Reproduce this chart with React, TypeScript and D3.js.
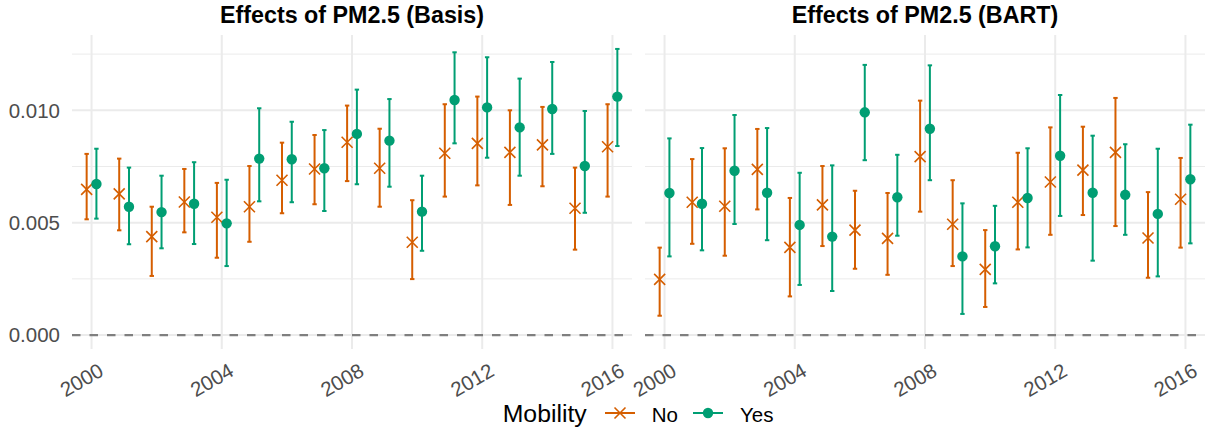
import React from 'react';
import * as d3 from 'd3';

const years = d3.range(2000, 2017);
const xTicks = [2000, 2004, 2008, 2012, 2016];
const yTicks = [0, 0.005, 0.01];
const yMinor = [0.0025, 0.0075, 0.0125];
const yTickLabels = ['0.000', '0.005', '0.010'];
const panelTitles = ['Effects of PM2.5 (Basis)', 'Effects of PM2.5 (BART)'];
const groups = ['No', 'Yes'];

// Basis model, no mobility
const basisNoEst = [0.00648, 0.00628, 0.00438, 0.00592, 0.00524, 0.00571, 0.00689, 0.00739, 0.00858, 0.00742, 0.00413, 0.00809, 0.00853, 0.00813, 0.00846, 0.00564, 0.00838];
const basisNoLo = [0.00515, 0.00466, 0.00263, 0.00457, 0.00344, 0.00415, 0.00542, 0.00582, 0.00685, 0.00571, 0.00249, 0.00616, 0.00666, 0.00579, 0.00662, 0.0038, 0.00616];
const basisNoHi = [0.00806, 0.00785, 0.00571, 0.00739, 0.00677, 0.00752, 0.00856, 0.0089, 0.01021, 0.00918, 0.006, 0.01027, 0.01061, 0.01, 0.01015, 0.00745, 0.01027];

// Basis model, mobility
const basisYesEst = [0.00672, 0.00571, 0.00547, 0.00584, 0.00497, 0.00785, 0.00782, 0.00742, 0.00895, 0.00865, 0.00549, 0.01046, 0.01013, 0.00924, 0.01006, 0.00752, 0.01061];
const basisYesLo = [0.00518, 0.00404, 0.00386, 0.00405, 0.00307, 0.00595, 0.00591, 0.00552, 0.00671, 0.0066, 0.00375, 0.00853, 0.00789, 0.00709, 0.00806, 0.00544, 0.00841];
const basisYesHi = [0.00829, 0.00745, 0.00709, 0.00769, 0.00691, 0.01009, 0.00949, 0.00912, 0.01092, 0.0105, 0.00709, 0.01258, 0.01236, 0.01141, 0.01215, 0.00997, 0.01273];

// BART model, no mobility
const bartNoEst = [0.00248, 0.00591, 0.00573, 0.00737, 0.0039, 0.00579, 0.00467, 0.0043, 0.00794, 0.00493, 0.00292, 0.00591, 0.00681, 0.00734, 0.00813, 0.00432, 0.00604];
const bartNoLo = [0.00086, 0.00406, 0.00353, 0.00559, 0.00172, 0.00396, 0.00295, 0.00268, 0.00549, 0.00307, 0.00125, 0.00381, 0.00446, 0.00534, 0.00485, 0.00255, 0.00389];
const bartNoHi = [0.00389, 0.00783, 0.00831, 0.00917, 0.0061, 0.00752, 0.00642, 0.00632, 0.01043, 0.00689, 0.00467, 0.00811, 0.00924, 0.00927, 0.01055, 0.00636, 0.00788];

// BART model, mobility
const bartYesEst = [0.00632, 0.00584, 0.00731, 0.00633, 0.0049, 0.00438, 0.00991, 0.00613, 0.00918, 0.0035, 0.00395, 0.0061, 0.00798, 0.00633, 0.00624, 0.00539, 0.00693];
const bartYesLo = [0.0035, 0.00377, 0.00494, 0.00422, 0.00223, 0.00196, 0.00778, 0.00442, 0.00689, 0.00094, 0.0023, 0.0039, 0.0053, 0.00331, 0.00446, 0.00261, 0.00408];
const bartYesHi = [0.00875, 0.00832, 0.00979, 0.00921, 0.00722, 0.00755, 0.01202, 0.00802, 0.012, 0.00586, 0.00575, 0.00831, 0.01068, 0.00887, 0.00849, 0.00829, 0.00936];

const colors = { No: '#D55E00', Yes: '#009E73' };
const font = '"Liberation Sans", Arial, Helvetica, sans-serif';

const panels = [
  {
    title: panelTitles[0], x0: 72, x1: 632,
    series: [
      { group: 'No', est: basisNoEst, lo: basisNoLo, hi: basisNoHi },
      { group: 'Yes', est: basisYesEst, lo: basisYesLo, hi: basisYesHi },
    ],
  },
  {
    title: panelTitles[1], x0: 645, x1: 1205,
    series: [
      { group: 'No', est: bartNoEst, lo: bartNoLo, hi: bartNoHi },
      { group: 'Yes', est: bartYesEst, lo: bartYesLo, hi: bartYesHi },
    ],
  },
];

const top = 35, bottom = 349;
const y = d3.scaleLinear().domain([-0.00062, 0.01335]).range([bottom, top]);
const dodge = 0.15;

const Cross = ({ cx, cy, color }) => {
  const s = 5.5;
  return (
    <path
      d={`M${cx - s},${cy - s}L${cx + s},${cy + s}M${cx - s},${cy + s}L${cx + s},${cy - s}`}
      stroke={color}
      strokeWidth={1.6}
      fill="none"
    />
  );
};

const Panel = ({ panel, showY }) => {
  const x = d3.scaleLinear().domain([1999.4, 2016.6]).range([panel.x0, panel.x1]);
  return (
    <g>
      {yMinor.map(v => (
        <line key={'mn' + v} x1={panel.x0} x2={panel.x1} y1={y(v)} y2={y(v)} stroke="#EBEBEB" strokeWidth={1} />
      ))}
      {yTicks.map(v => (
        <line key={'mj' + v} x1={panel.x0} x2={panel.x1} y1={y(v)} y2={y(v)} stroke="#EBEBEB" strokeWidth={2} />
      ))}
      {xTicks.map(t => (
        <line key={'vx' + t} x1={x(t)} x2={x(t)} y1={top} y2={bottom} stroke="#EBEBEB" strokeWidth={2} />
      ))}
      <line x1={panel.x0} x2={panel.x1} y1={y(0)} y2={y(0)} stroke="#7F7F7F" strokeWidth={2.2} strokeDasharray="8.5,9" />

      {panel.series.map((s, si) => {
        const off = si === 0 ? -dodge : dodge;
        const c = colors[s.group];
        return (
          <g key={s.group}>
            {years.map((yr, i) => {
              const cx = x(yr + off);
              return (
                <g key={yr}>
                  <line x1={cx} x2={cx} y1={y(s.lo[i])} y2={y(s.hi[i])} stroke={c} strokeWidth={2} />
                  <line x1={cx - 2.2} x2={cx + 2.2} y1={y(s.lo[i])} y2={y(s.lo[i])} stroke={c} strokeWidth={2} />
                  <line x1={cx - 2.2} x2={cx + 2.2} y1={y(s.hi[i])} y2={y(s.hi[i])} stroke={c} strokeWidth={2} />
                  {s.group === 'No'
                    ? <Cross cx={cx} cy={y(s.est[i])} color={c} />
                    : <circle cx={cx} cy={y(s.est[i])} r={5.2} fill={c} />}
                </g>
              );
            })}
          </g>
        );
      })}

      {xTicks.map(t => (
        <text
          key={'xl' + t}
          transform={`translate(${x(t) + 6},${362}) rotate(-30)`}
          textAnchor="end"
          dy="0.72em"
          fontSize={20.5}
          fill="#4D4D4D"
          fontFamily={font}
        >
          {t}
        </text>
      ))}

      {showY && yTicks.map((v, i) => (
        <text key={'yl' + v} x={60} y={y(v) + 7.3} textAnchor="end" fontSize={20.5} fill="#4D4D4D" fontFamily={font}>
          {yTickLabels[i]}
        </text>
      ))}

      <text x={(panel.x0 + panel.x1) / 2} y={23.3} textAnchor="middle" fontSize={23.3} fontWeight="bold" fill="#000" fontFamily={font}>
        {panel.title}
      </text>
    </g>
  );
};

const Legend = () => {
  const ly = 413;
  return (
    <g fontFamily={font}>
      <text x={502.7} y={421.7} fontSize={24.8} fill="#000">Mobility</text>
      <line x1={605} x2={635} y1={ly} y2={ly} stroke={colors.No} strokeWidth={2} />
      <Cross cx={620} cy={ly} color={colors.No} />
      <text x={651.7} y={421.7} fontSize={20.5} fill="#000">{groups[0]}</text>
      <line x1={693} x2={723} y1={ly} y2={ly} stroke={colors.Yes} strokeWidth={2} />
      <circle cx={708} cy={ly} r={5.2} fill={colors.Yes} />
      <text x={740} y={421.7} fontSize={20.5} fill="#000">{groups[1]}</text>
    </g>
  );
};

export default function App() {
  return (
    <svg
      width={1205}
      height={435}
      style={{ position: 'absolute', left: 0, top: 0, background: '#fff' }}
    >
      <rect width={1205} height={435} fill="#fff" />
      {panels.map((p, i) => (
        <Panel key={p.title} panel={p} showY={i === 0} />
      ))}
      <Legend />
    </svg>
  );
}
